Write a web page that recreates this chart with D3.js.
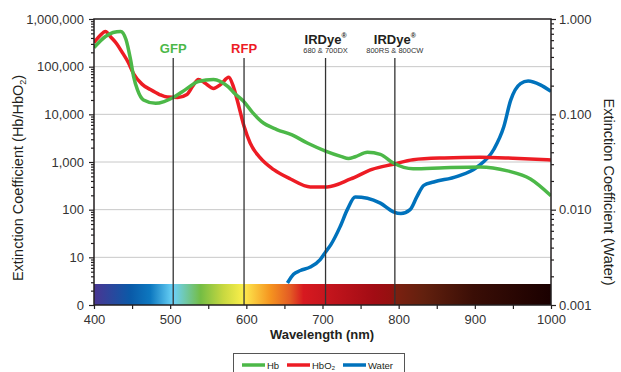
<!DOCTYPE html>
<html>
<head>
<meta charset="utf-8">
<script src="https://cdn.jsdelivr.net/npm/d3@7"></script>
<style>
  body { margin: 0; background: #fff; }
  svg { font-family: "Liberation Sans", Arial, sans-serif; }
</style>
</head>
<body>
<script>
// Hb (deoxy) extinction
const hbWave = [400, 415, 425, 435, 442, 448, 452, 457, 465, 481, 492, 504, 520, 537, 557, 576, 585, 596, 608, 620, 640, 660, 680, 704, 725, 734, 743, 759, 776, 793, 819, 860, 907, 943, 973, 1000];
const hbVal = [250000, 430000, 520000, 550000, 370000, 140000, 62000, 33000, 20000, 17000, 18500, 22500, 33000, 49000, 54000, 38000, 27000, 19000, 11000, 7000, 4800, 3700, 2500, 1700, 1300, 1180, 1290, 1600, 1450, 950, 720, 760, 790, 650, 440, 195];

// HbO2
const hbo2Wave = [400, 408, 415, 422, 430, 437, 445, 452, 463, 474, 486, 496, 510, 522, 530, 537, 545, 557, 566, 577, 583, 588, 597, 605, 618, 636, 658, 684, 706, 737, 765, 793, 819, 860, 907, 950, 1000];
const hbo2Val = [320000, 450000, 550000, 420000, 300000, 200000, 123000, 71000, 43000, 33000, 26000, 23000, 22500, 26000, 40000, 54000, 46000, 35000, 42000, 60000, 38000, 20000, 5600, 2500, 1230, 690, 440, 300, 300, 440, 700, 900, 1120, 1220, 1260, 1200, 1100];

// Water (right axis)
const waterWave = [654, 662, 671, 684, 697, 704, 711, 723, 733, 743, 759, 776, 793, 803, 815, 824, 833, 846, 877, 903, 925, 938, 947, 960, 970, 986, 1000];
const waterVal = [0.0017, 0.0021, 0.0023, 0.0025, 0.003, 0.0036, 0.0043, 0.0066, 0.0102, 0.0136, 0.0132, 0.0117, 0.0095, 0.0091, 0.01, 0.0137, 0.018, 0.0195, 0.0224, 0.028, 0.043, 0.074, 0.14, 0.21, 0.224, 0.204, 0.174];

const xTicks = [400, 500, 600, 700, 800, 900, 1000];
const leftTicks = [1, 10, 100, 1000, 10000, 100000, 1000000];
const leftTickLabels = ["0", "10", "100", "1,000", "10,000", "100,000", "1,000,000"];
const rightTicks = [0.001, 0.01, 0.1, 1];
const rightTickLabels = ["0.001", "0.010", "0.100", "1.000"];

const markers = [
  { nm: 504, name: "GFP", sub: null, color: "#4cb848" },
  { nm: 597, name: "RFP", sub: null, color: "#ed1c24" },
  { nm: 704, name: "IRDye", sub: "680 & 700DX", color: "#231f20" },
  { nm: 795, name: "IRDye", sub: "800RS & 800CW", color: "#231f20" }
];

const spectrumNm = [400, 448, 474, 500, 505, 540, 570, 595, 600, 632, 658, 675, 701, 767, 789, 798, 833, 898, 1000];
const spectrumColor = ["#4a3592", "#0a5aa8", "#0d78c0", "#5fc8f0", "#6dd0f5", "#74bd44", "#c8d840", "#f9ee4a", "#fde24a", "#f5931f", "#e35a24", "#d71920", "#c8161e", "#a20c14", "#951010", "#7a2010", "#62200e", "#3a0e06", "#1a0000"];

const width = 621, height = 372;
const plotLeft = 94, plotRight = 551, plotTop = 19, plotBottom = 305;

const svg = d3.select("body").append("svg")
  .attr("width", width)
  .attr("height", height);

const x = d3.scaleLinear().domain([400, 1000]).range([plotLeft, plotRight]);
const yL = d3.scaleLog().domain([1, 1e6]).range([plotBottom, plotTop]);
const yR = d3.scaleLog().domain([0.001, 1]).range([plotBottom, plotTop]);

// gridlines
svg.append("g").selectAll("line")
  .data(leftTicks.slice(1, -1))
  .join("line")
  .attr("x1", plotLeft).attr("x2", plotRight)
  .attr("y1", d => yL(d)).attr("y2", d => yL(d))
  .attr("stroke", "#c8c8c8").attr("stroke-width", 1);

svg.append("clipPath").attr("id", "plot")
  .append("rect").attr("x", plotLeft).attr("y", plotTop)
  .attr("width", plotRight - plotLeft).attr("height", plotBottom - plotTop);

const curves = svg.append("g").attr("clip-path", "url(#plot)");

const lineL = d3.line().x(d => x(d[0])).y(d => yL(d[1])).curve(d3.curveMonotoneX);
const lineR = d3.line().x(d => x(d[0])).y(d => yR(d[1])).curve(d3.curveMonotoneX);

curves.append("path")
  .datum(d3.zip(waterWave, waterVal))
  .attr("d", lineR)
  .attr("fill", "none").attr("stroke", "#0072bc").attr("stroke-width", 3.5);
curves.append("path")
  .datum(d3.zip(hbo2Wave, hbo2Val))
  .attr("d", lineL)
  .attr("fill", "none").attr("stroke", "#ed1c24").attr("stroke-width", 3.5);
curves.append("path")
  .datum(d3.zip(hbWave, hbVal))
  .attr("d", lineL)
  .attr("fill", "none").attr("stroke", "#4cb848").attr("stroke-width", 3.5);

// spectrum bar
const grad = svg.append("defs").append("linearGradient")
  .attr("id", "spectrum").attr("x1", "0%").attr("x2", "100%");
grad.selectAll("stop")
  .data(d3.zip(spectrumNm, spectrumColor))
  .join("stop")
  .attr("offset", d => ((d[0] - 400) / 600 * 100) + "%")
  .attr("stop-color", d => d[1]);

svg.append("rect")
  .attr("x", plotLeft).attr("y", 284)
  .attr("width", plotRight - plotLeft).attr("height", plotBottom - 284)
  .attr("fill", "url(#spectrum)");

// marker lines + labels
const mk = svg.append("g").selectAll("g").data(markers).join("g");
mk.append("line")
  .attr("x1", d => x(d.nm)).attr("x2", d => x(d.nm))
  .attr("y1", 58).attr("y2", plotBottom)
  .attr("stroke", "#333").attr("stroke-width", 1.3);
const mkText = mk.append("text")
  .attr("x", d => x(d.nm))
  .attr("y", d => d.sub ? 44 : 53)
  .attr("text-anchor", "middle")
  .attr("font-weight", "bold")
  .attr("font-size", 13)
  .attr("fill", d => d.color);
mkText.append("tspan").text(d => d.name);
mkText.filter(d => d.sub).append("tspan")
  .attr("font-size", 7).attr("dy", -6).text("®");
mk.filter(d => d.sub).append("text")
  .attr("x", d => x(d.nm))
  .attr("y", 53)
  .attr("text-anchor", "middle")
  .attr("font-size", 7.5)
  .attr("fill", "#333")
  .text(d => d.sub);

// frame
svg.append("rect")
  .attr("x", plotLeft).attr("y", plotTop)
  .attr("width", plotRight - plotLeft).attr("height", plotBottom - plotTop)
  .attr("fill", "none").attr("stroke", "#231f20").attr("stroke-width", 1.5);

// minor ticks
const minorL = [];
for (let e = 0; e < 6; e++) for (let m = 2; m < 10; m++) minorL.push(m * Math.pow(10, e));
const minorR = [];
for (let e = -3; e < 0; e++) for (let m = 2; m < 10; m++) minorR.push(m * Math.pow(10, e));

function styleAxis(g) {
  g.select(".domain").remove();
  g.selectAll(".tick line").attr("stroke", "#231f20").attr("stroke-width", 1.2);
  g.selectAll(".tick text").attr("fill", "#333").attr("font-size", 13)
    .attr("font-family", "Liberation Sans, Arial, sans-serif");
}

svg.append("g").attr("transform", `translate(${plotLeft},0)`)
  .call(d3.axisLeft(yL).tickValues(minorL).tickFormat("").tickSize(3))
  .call(styleAxis);
svg.append("g").attr("transform", `translate(${plotLeft},0)`)
  .call(d3.axisLeft(yL).tickValues(leftTicks).tickFormat((d, i) => leftTickLabels[i]).tickSize(5).tickPadding(5))
  .call(styleAxis);

svg.append("g").attr("transform", `translate(${plotRight},0)`)
  .call(d3.axisRight(yR).tickValues(minorR).tickFormat("").tickSize(3))
  .call(styleAxis);
svg.append("g").attr("transform", `translate(${plotRight},0)`)
  .call(d3.axisRight(yR).tickValues(rightTicks).tickFormat((d, i) => rightTickLabels[i]).tickSize(5).tickPadding(3))
  .call(styleAxis);

svg.append("g").attr("transform", `translate(0,${plotBottom})`)
  .call(d3.axisBottom(x).tickValues(d3.range(400, 1001, 50)).tickFormat(d => xTicks.includes(d) ? d : "").tickSize(4).tickPadding(6))
  .call(styleAxis);

// axis titles
svg.append("text")
  .attr("transform", "translate(23,178) rotate(-90)")
  .attr("text-anchor", "middle")
  .attr("font-size", 14.5)
  .attr("fill", "#231f20")
  .call(t => {
    t.append("tspan").text("Extinction Coefficient (Hb/HbO");
    t.append("tspan").attr("font-size", 9).attr("dy", 3).text("2");
    t.append("tspan").attr("dy", -3).text(")");
  });

svg.append("text")
  .attr("transform", "translate(604,192) rotate(90)")
  .attr("text-anchor", "middle")
  .attr("font-size", 14.5)
  .attr("fill", "#231f20")
  .text("Extinction Coefficient (Water)");

svg.append("text")
  .attr("x", 322).attr("y", 339)
  .attr("text-anchor", "middle")
  .attr("font-weight", "bold")
  .attr("font-size", 13)
  .attr("fill", "#231f20")
  .text("Wavelength (nm)");

// legend
const legendItems = [
  { label: "Hb", color: "#4cb848", x: 242 },
  { label: "HbO₂", color: "#ed1c24", x: 287 },
  { label: "Water", color: "#0072bc", x: 343 }
];
svg.append("rect")
  .attr("x", 233.5).attr("y", 353.5)
  .attr("width", 171).attr("height", 30)
  .attr("fill", "#fff").attr("stroke", "#555").attr("stroke-width", 1);
const lg = svg.append("g").selectAll("g").data(legendItems).join("g");
lg.append("line")
  .attr("x1", d => d.x).attr("x2", d => d.x + 23)
  .attr("y1", 365).attr("y2", 365)
  .attr("stroke", d => d.color).attr("stroke-width", 3.5);
lg.append("text")
  .attr("x", d => d.x + 25).attr("y", 368.5)
  .attr("font-size", 9.5)
  .attr("fill", "#231f20")
  .text(d => d.label);
</script>
</body>
</html>
